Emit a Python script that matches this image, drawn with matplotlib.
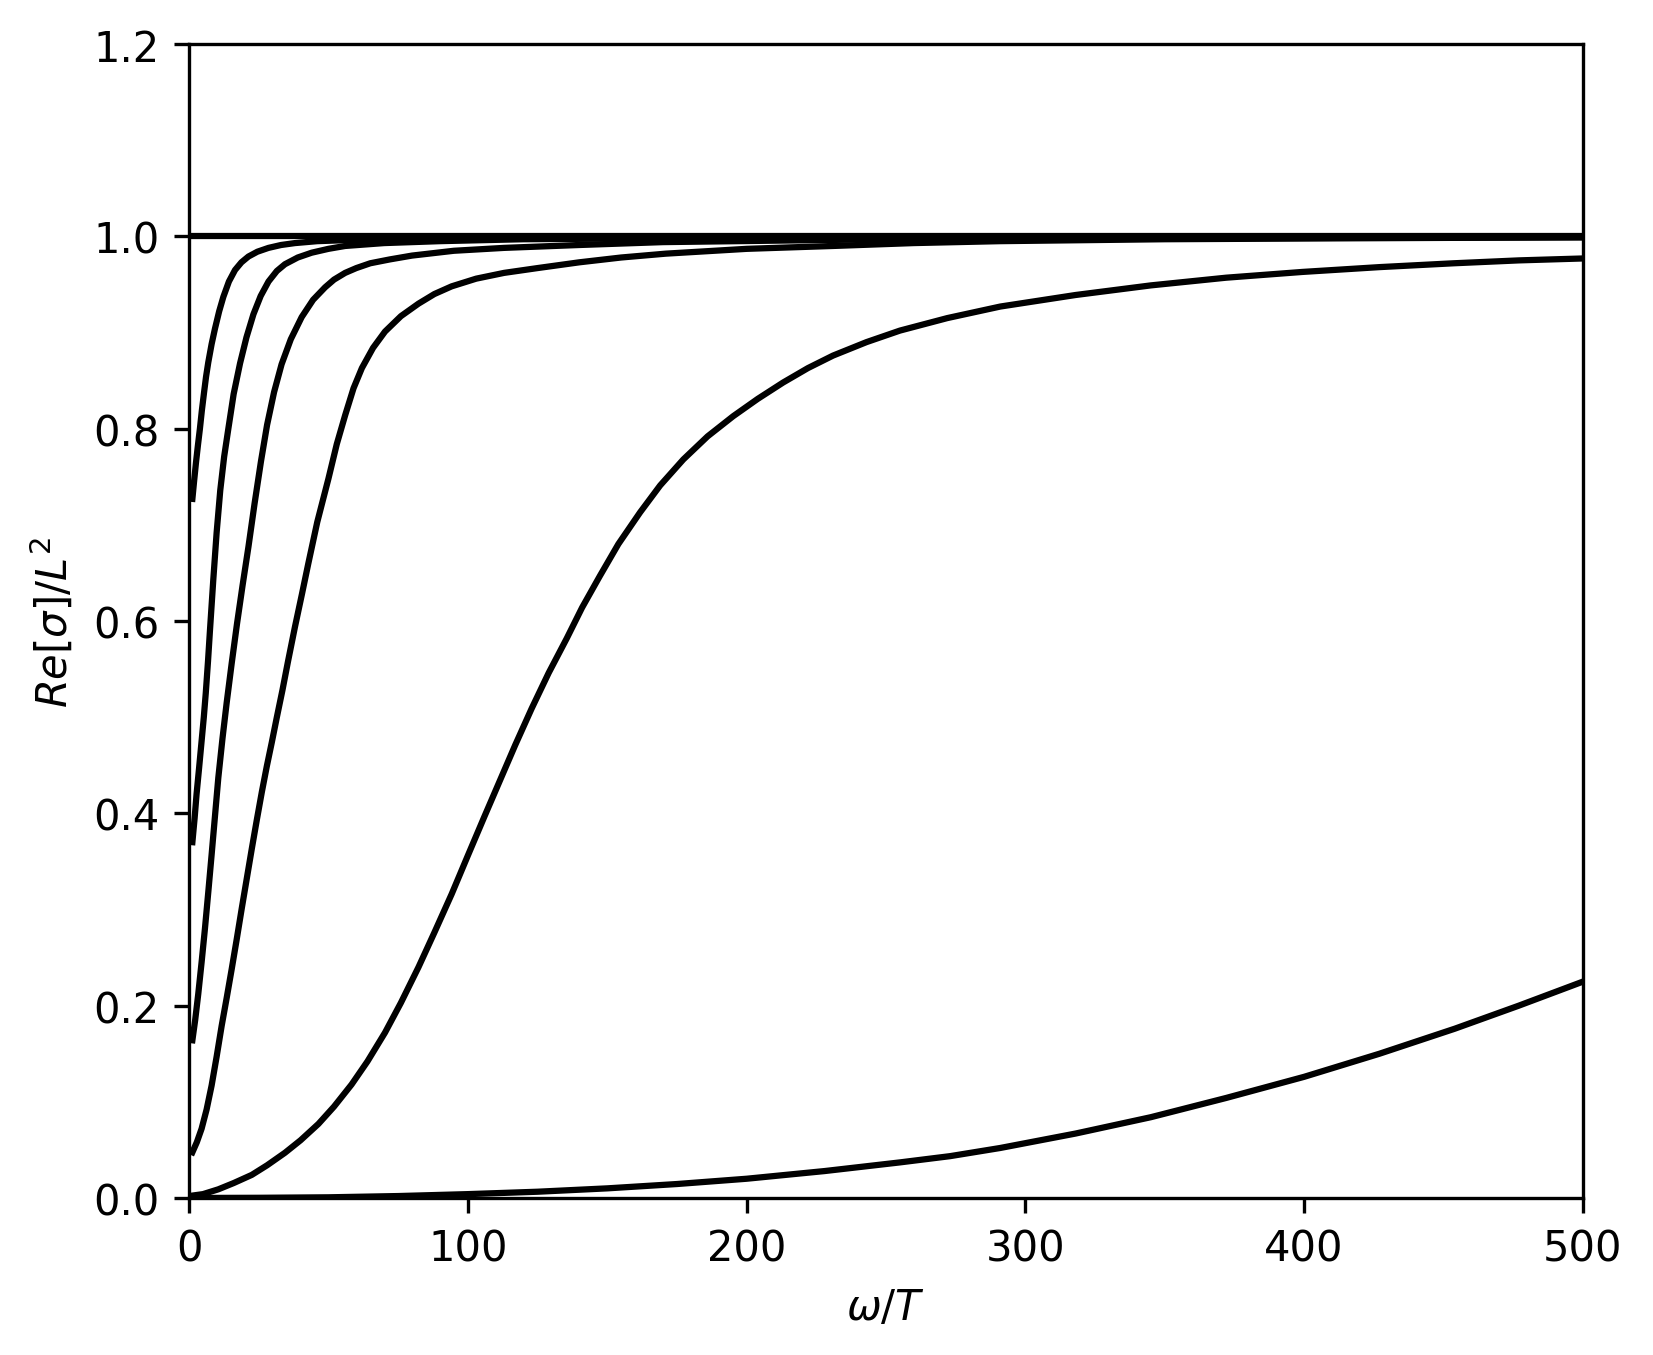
import numpy as np
import matplotlib
matplotlib.use("Agg")
import matplotlib.pyplot as plt

# valeurs : omega/T et Re[sigma]/L^2 pour chaque courbe
w1 = [0.0, 500.0]
s1 = [1.0, 1.0]

w2 = [1.2, 1.8, 2.5, 3.2, 3.9, 4.6, 5.4, 6.1, 6.9, 8.1, 9.3, 10.8, 12.3,
      14.3, 16.5, 18.8, 21.3, 24.5, 28.5, 33.0, 38.0, 46.0, 56.0, 80.0,
      120.0, 200.0, 300.0, 500.0]
s2 = [0.727, 0.745, 0.765, 0.783, 0.800, 0.819, 0.838, 0.854, 0.869, 0.888,
      0.904, 0.922, 0.937, 0.953, 0.965, 0.973, 0.979, 0.984, 0.988, 0.991,
      0.993, 0.995, 0.996, 0.998, 0.999, 0.9995, 1.0, 1.0]

w3 = [1.2, 2.0, 2.7, 3.6, 4.5, 5.3, 6.0, 6.8, 7.5, 8.7, 9.9, 11.2, 12.6,
      14.1, 16.0, 18.3, 20.6, 23.1, 25.7, 28.5, 31.5, 34.4, 39.0, 44.0, 50.0,
      56.0, 70.0, 90.0, 120.0, 170.0, 250.0, 350.0, 500.0]
s3 = [0.370, 0.395, 0.420, 0.447, 0.475, 0.500, 0.525, 0.558, 0.590, 0.643,
      0.692, 0.736, 0.771, 0.800, 0.836, 0.868, 0.895, 0.919, 0.938, 0.953,
      0.964, 0.971, 0.978, 0.983, 0.987, 0.990, 0.993, 0.995, 0.997, 0.998,
      0.999, 0.9995, 1.0]

w4 = [1.2, 2.2, 3.3, 4.5, 5.7, 6.9, 8.1, 9.3, 10.5, 12.0, 13.5, 15.3, 17.2,
      19.2, 21.3, 23.5, 25.8, 28.0, 30.5, 33.2, 36.5, 40.4, 44.5, 48.8, 52.0,
      56.0, 60.0, 65.0, 72.0, 80.0, 95.0, 113.0, 140.0, 170.0, 250.0, 350.0,
      500.0]
s4 = [0.164, 0.185, 0.212, 0.245, 0.280, 0.318, 0.357, 0.397, 0.437, 0.478,
      0.515, 0.556, 0.597, 0.637, 0.677, 0.722, 0.766, 0.804, 0.838, 0.867,
      0.893, 0.916, 0.934, 0.947, 0.955, 0.962, 0.967, 0.972, 0.976, 0.980,
      0.985, 0.988, 0.991, 0.994, 0.997, 0.998, 0.999]

w5 = [1.2, 2.8, 4.5, 6.3, 8.1, 9.9, 11.7, 13.5, 15.3, 17.1, 18.9, 20.7, 22.5,
      24.3, 26.1, 27.9, 29.7, 31.5, 33.5, 35.5, 38.0, 40.5, 42.8, 46.0, 50.0,
      53.0, 56.0, 59.0, 62.0, 66.0, 70.3, 76.0, 82.3, 88.0, 94.2, 103.0,
      113.0, 125.0, 140.0, 155.0, 171.0, 200.0, 231.0, 260.0, 291.0, 350.0,
      420.0, 500.0]
s5 = [0.0475, 0.058, 0.072, 0.092, 0.117, 0.147, 0.179, 0.208, 0.238, 0.269,
      0.301, 0.332, 0.363, 0.393, 0.422, 0.449, 0.474, 0.500, 0.528, 0.558,
      0.594, 0.628, 0.660, 0.703, 0.748, 0.784, 0.814, 0.842, 0.863, 0.884,
      0.901, 0.917, 0.930, 0.940, 0.948, 0.956, 0.962, 0.967, 0.973, 0.978,
      0.982, 0.987, 0.990, 0.993, 0.995, 0.997, 0.998, 0.999]

w6 = [0.0, 5.0, 10.5, 16.0, 22.5, 28.0, 34.4, 40.0, 46.4, 52.0, 58.3, 64.0,
      70.3, 76.0, 82.3, 88.0, 94.2, 100.0, 106.0, 111.5, 117.0, 122.9, 129.0,
      135.5, 141.0, 147.4, 154.0, 161.8, 169.0, 177.3, 186.0, 195.2, 204.0,
      213.1, 222.0, 231.0, 243.0, 255.0, 272.0, 291.0, 318.0, 345.0, 372.0,
      399.4, 427.0, 453.7, 477.0, 500.0]
s6 = [0.002, 0.004, 0.009, 0.0155, 0.024, 0.034, 0.047, 0.060, 0.077, 0.095,
      0.118, 0.142, 0.172, 0.203, 0.240, 0.276, 0.316, 0.356, 0.397, 0.434,
      0.471, 0.509, 0.546, 0.582, 0.614, 0.647, 0.680, 0.713, 0.741, 0.768,
      0.792, 0.813, 0.831, 0.848, 0.863, 0.876, 0.890, 0.902, 0.915, 0.927,
      0.939, 0.949, 0.957, 0.963, 0.968, 0.972, 0.975, 0.977]

w7 = [0.0, 25.0, 50.0, 75.0, 100.0, 125.0, 150.0, 175.0, 200.0, 228.0, 255.0,
      273.0, 291.0, 318.0, 345.0, 372.0, 400.0, 427.0, 454.0, 477.0, 500.0]
s7 = [0.0, 0.0002, 0.0007, 0.002, 0.004, 0.0065, 0.010, 0.0145, 0.020, 0.028,
      0.037, 0.0435, 0.052, 0.067, 0.084, 0.104, 0.126, 0.150, 0.176, 0.200,
      0.225]

courbes = [(w1, s1), (w2, s2), (w3, s3), (w4, s4), (w5, s5), (w6, s6), (w7, s7)]

fig = plt.figure(figsize=(5.513, 4.52), dpi=300)
ax = fig.add_axes([0.1143, 0.1158, 0.8428, 0.851])

for w, s in courbes:
    ax.plot(w, s, 'k-', lw=1.5)

ax.set_xlim(0, 500)
ax.set_ylim(0, 1.2)
ax.set_xticks(np.arange(0, 501, 100))
ax.set_yticks(np.arange(0, 1.21, 0.2))
ax.set_xlabel(r'$\omega/T$')
ax.set_ylabel(r'$Re[\sigma]/L^2$')

plt.savefig('out.png', dpi=300)
plt.close()
